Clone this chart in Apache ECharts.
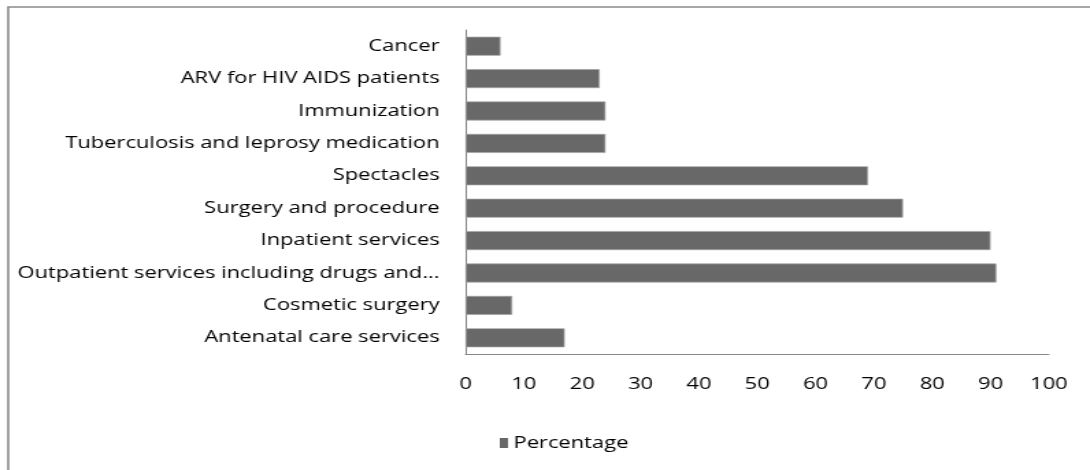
<!DOCTYPE html>
<html>
<head>
<meta charset="utf-8">
<script src="https://cdn.jsdelivr.net/npm/echarts@6/dist/echarts.min.js"></script>
<style>
  html, body { margin: 0; padding: 0; background: #ffffff; overflow: hidden; }
  #wrap { width: 1090px; height: 470px; overflow: hidden; position: relative; }
  #chart { width: 796px; height: 470px; transform: scaleX(1.3693); transform-origin: 0 0; }
</style>
</head>
<body>
<div id="wrap"><div id="chart"></div></div>
<script>
// Categories listed top to bottom as in the picture
const categories = [
  "Cancer",
  "ARV for HIV AIDS patients",
  "Immunization",
  "Tuberculosis and leprosy medication",
  "Spectacles",
  "Surgery and procedure",
  "Inpatient services",
  "Outpatient services including drugs and...",
  "Cosmetic surgery",
  "Antenatal care services"
];
const percentage = [6, 23, 24, 24, 69, 75, 90, 91, 8, 17];
const seriesName = "Percentage";
const xTicks = [0, 10, 20, 30, 40, 50, 60, 70, 80, 90, 100];

const font = "'Open Sans', 'DejaVu Sans', sans-serif";
const chart = echarts.init(document.getElementById('chart'), null, { renderer: 'canvas' });

chart.setOption({
  animation: false,
  backgroundColor: '#ffffff',
  graphic: [{
    type: 'rect',
    shape: { x: 6, y: 7, width: 900, height: 600 },
    style: { fill: 'none', stroke: '#8a8a8a', lineWidth: 1.6 },
    silent: true,
    z: -1
  }],
  grid: { left: 340, right: 30, top: 30, bottom: 116, containLabel: false },
  legend: {
    data: [seriesName],
    left: 360,
    top: 430,
    icon: 'rect',
    itemWidth: 6,
    itemHeight: 10,
    itemGap: 6,
    itemStyle: { color: '#686868', borderWidth: 0 },
    textStyle: { fontFamily: font, fontSize: 16, color: '#000000', padding: [0, 0, 0, -1] }
  },
  xAxis: {
    type: 'value',
    min: xTicks[0],
    max: xTicks[xTicks.length - 1],
    interval: 10,
    axisLine: { show: true, lineStyle: { color: '#888888', width: 1 } },
    axisTick: { show: false },
    splitLine: { show: false },
    axisLabel: { fontFamily: font, fontSize: 16, color: '#000000', margin: 22 }
  },
  yAxis: {
    type: 'category',
    inverse: true,
    data: categories,
    axisLine: { show: true, lineStyle: { color: '#888888', width: 1 } },
    axisTick: { show: false },
    axisLabel: { fontFamily: font, fontSize: 16, color: '#000000', margin: 19 }
  },
  series: [{
    name: seriesName,
    type: 'bar',
    data: percentage,
    barWidth: 19,
    itemStyle: { color: '#686868', borderColor: '#a5a5a5', borderWidth: 0.7 }
  }]
});
</script>
</body>
</html>
